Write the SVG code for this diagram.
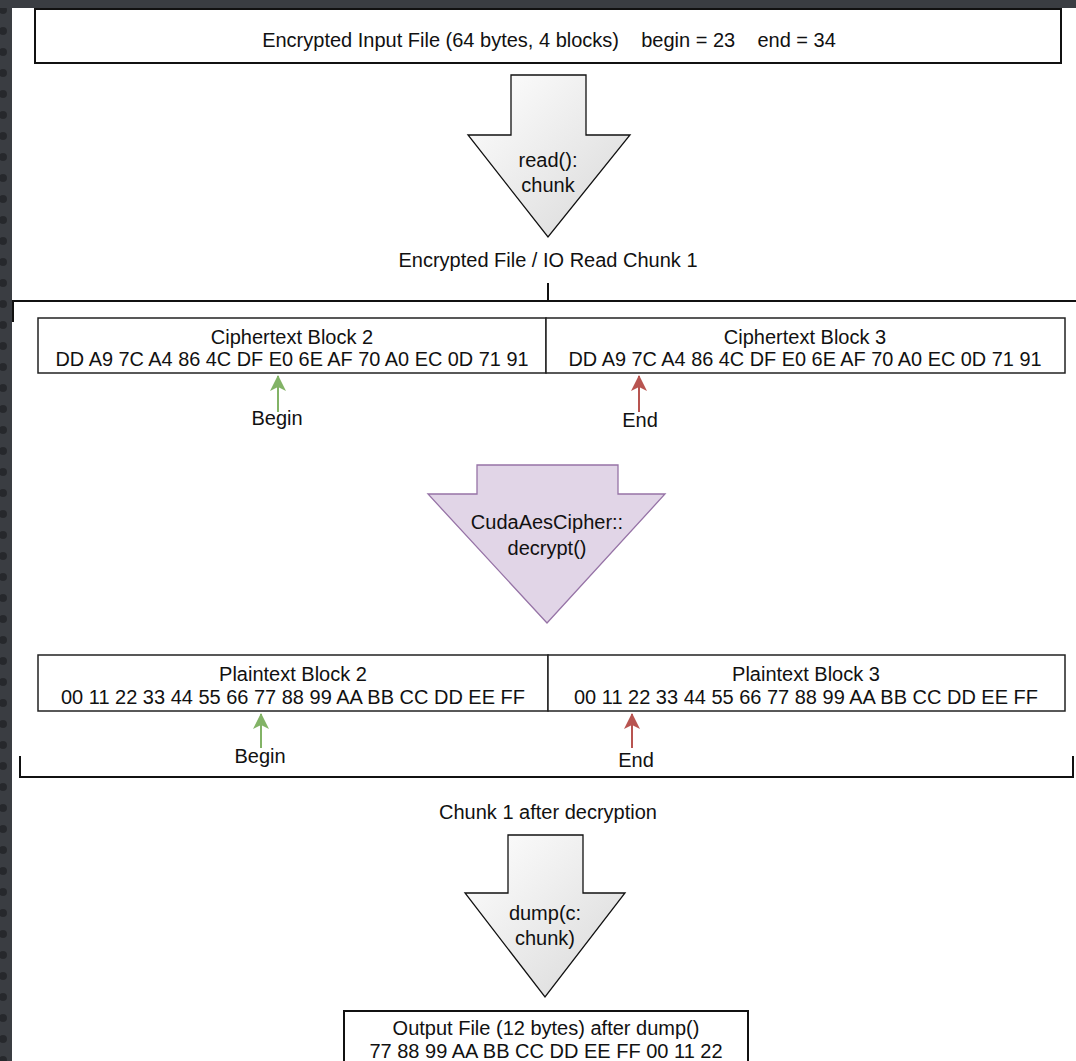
<svg xmlns="http://www.w3.org/2000/svg" width="1076" height="1061" viewBox="0 0 1076 1061">
<defs>
<linearGradient id="gw" x1="0" y1="0" x2="1" y2="1">
<stop offset="0" stop-color="#ffffff"/>
<stop offset="1" stop-color="#d8d8d8"/>
</linearGradient>
<pattern id="dots" width="12" height="21" patternUnits="userSpaceOnUse">
<rect width="12" height="21" fill="#3a3d42"/>
<circle cx="3" cy="10" r="4" fill="#26282c"/>
</pattern>
<marker id="mg" markerWidth="16" markerHeight="16" refX="15" refY="8" orient="auto" markerUnits="userSpaceOnUse" viewBox="0 0 16 16">
<path d="M0,0 L16,8 L0,16 L4,8 Z" fill="#82b366"/>
</marker>
<marker id="mr" markerWidth="16" markerHeight="16" refX="15" refY="8" orient="auto" markerUnits="userSpaceOnUse" viewBox="0 0 16 16">
<path d="M0,0 L16,8 L0,16 L4,8 Z" fill="#b85450"/>
</marker>
</defs>
<style>
text{font-family:"Liberation Sans",Arial,Helvetica,sans-serif;font-size:20px;fill:#111;text-anchor:middle;white-space:pre}
.box{fill:#fff;stroke:#111;stroke-width:2}
.blk{fill:#fff;stroke:#222;stroke-width:1.5}
.ln{fill:none;stroke:#111;stroke-width:2}
.bigw{fill:url(#gw);stroke:#111;stroke-width:1.3}
.bigp{fill:#e1d5e7;stroke:#9673a6;stroke-width:1.3}
.ag{stroke:#82b366;stroke-width:2;fill:none}
.ar{stroke:#b85450;stroke-width:2;fill:none}
</style>
<rect width="1076" height="1061" fill="#fff"/>
<rect x="0" y="0" width="12" height="1061" fill="url(#dots)"/>
<rect x="0" y="0" width="1076" height="8" fill="#3a3d42"/>

<g id="connectors">
<path class="ln" d="M548,283 V301 M13,322 V301 H1076"/>
<path class="ln" d="M20,756 V777 H1073 V756"/>
<path class="ag" d="M278,412 V376" marker-end="url(#mg)"/>
<path class="ar" d="M639,412 V376" marker-end="url(#mr)"/>
<path class="ag" d="M261,748 V714" marker-end="url(#mg)"/>
<path class="ar" d="M632,748 V714" marker-end="url(#mr)"/>
</g>

<g id="input-file">
<rect class="box" x="35" y="9" width="1026" height="54"/>
<text x="549" y="47">Encrypted Input File (64 bytes, 4 blocks)    begin = 23    end = 34</text>
</g>

<g id="read-arrow">
<path class="bigw" d="M511,75 H586 V135 H630 L548,237 L468,135 H511 Z"/>
<text x="548" y="167">read():</text>
<text x="548" y="192">chunk</text>
</g>

<g id="chunk-label">
<text x="548" y="267">Encrypted File / IO Read Chunk 1</text>
</g>

<g id="cipher-block-2">
<rect class="blk" x="38" y="318" width="508" height="55"/>
<text x="292" y="344">Ciphertext Block 2</text>
<text x="292" y="366" textLength="473" lengthAdjust="spacingAndGlyphs">DD A9 7C A4 86 4C DF E0 6E AF 70 A0 EC 0D 71 91</text>
</g>
<g id="cipher-block-3">
<rect class="blk" x="546" y="318" width="519" height="55"/>
<text x="805" y="344">Ciphertext Block 3</text>
<text x="805" y="366" textLength="473" lengthAdjust="spacingAndGlyphs">DD A9 7C A4 86 4C DF E0 6E AF 70 A0 EC 0D 71 91</text>
</g>
<g id="begin-1"><text x="277" y="425">Begin</text></g>
<g id="end-1"><text x="640" y="427">End</text></g>

<g id="decrypt-arrow">
<path class="bigp" d="M477,465 H618 V494 H665 L547,623 L428,494 H477 Z"/>
<text x="547" y="529">CudaAesCipher::</text>
<text x="547" y="555">decrypt()</text>
</g>

<g id="plain-block-2">
<rect class="blk" x="38" y="655" width="510" height="56"/>
<text x="293" y="681">Plaintext Block 2</text>
<text x="293" y="704" textLength="464" lengthAdjust="spacingAndGlyphs">00 11 22 33 44 55 66 77 88 99 AA BB CC DD EE FF</text>
</g>
<g id="plain-block-3">
<rect class="blk" x="548" y="655" width="517" height="56"/>
<text x="806" y="681">Plaintext Block 3</text>
<text x="806" y="704" textLength="464" lengthAdjust="spacingAndGlyphs">00 11 22 33 44 55 66 77 88 99 AA BB CC DD EE FF</text>
</g>
<g id="begin-2"><text x="260" y="763">Begin</text></g>
<g id="end-2"><text x="636" y="767">End</text></g>

<g id="after-label">
<text x="548" y="819">Chunk 1 after decryption</text>
</g>

<g id="dump-arrow">
<path class="bigw" d="M508,835 H583 V893 H625 L545,997 L465,893 H508 Z"/>
<text x="545" y="920">dump(c:</text>
<text x="545" y="945">chunk)</text>
</g>

<g id="output-file">
<rect class="box" x="344" y="1011" width="404" height="60"/>
<text x="546" y="1035">Output File (12 bytes) after dump()</text>
<text x="546" y="1058">77 88 99 AA BB CC DD EE FF 00 11 22</text>
</g>
</svg>
